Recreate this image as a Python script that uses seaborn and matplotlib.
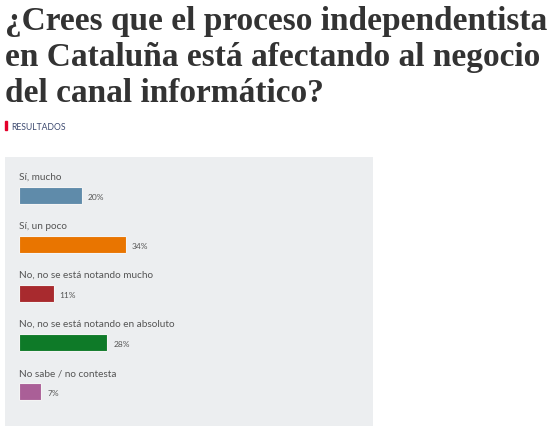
import matplotlib
matplotlib.use("Agg")
import matplotlib.pyplot as plt
import seaborn as sns
import pandas as pd

# -------------------------------
# Data
# -------------------------------
title = "¿Crees que el proceso independentista\nen Cataluña está afectando al negocio\ndel canal informático?"
answers = [
    "Sí, mucho",
    "Sí, un poco",
    "No, no se está notando mucho",
    "No, no se está notando en absoluto",
    "No sabe / no contesta",
]
percents = [20, 34, 11, 28, 7]
bar_colors = ["#5f8baa", "#e97500", "#a82a2e", "#0e7a28", "#aa5f97"]

df = pd.DataFrame({"answer": answers, "pct": percents})

# -------------------------------
# Figure
# -------------------------------
sns.set_theme(style="white")
plt.rcParams["font.family"] = ["Lato", "DejaVu Sans"]

W, H = 550, 427
fig = plt.figure(figsize=(W / 100, H / 100), dpi=100)
fig.patch.set_facecolor("white")

# title
fig.text(5 / W, 1 - 6 / H, title, ha="left", va="top",
         family=["Liberation Serif", "DejaVu Serif"], fontweight="bold",
         fontsize=24, color="#333333", linespacing=1.2)

# "RESULTADOS" tag
fig.patches.append(plt.Rectangle((5 / W, 1 - 131 / H), 2 / W, 9 / H,
                                 transform=fig.transFigure, color="#e4002b"))
fig.text(11 / W, 1 - 127 / H, "RESULTADOS", ha="left", va="center",
         fontsize=6.2, color="#3d4a70")

# panel axes (grey box)
ax = fig.add_axes([5 / W, 0, 368 / W, 269 / H])
ax.set_facecolor("#eceef0")

sns.barplot(data=df, x="pct", y="answer", hue="answer", palette=bar_colors,
            order=answers, hue_order=answers, orient="h", width=0.347,
            saturation=1, edgecolor="#f4f4f4", linewidth=0.8, legend=False, ax=ax)

px = 3.15  # pixels per percent
ax.set_xlim(-14 / px, (368 - 14) / px)
ax.set_ylim((427 - 196.5) / 49, (158 - 196.5) / 49)

for i, (a, p) in enumerate(zip(answers, percents)):
    ax.text(0, i - 0.385, a, ha="left", va="center", fontsize=7.2, color="#555555")
    ax.text(p + 6 / px, i + 0.02, f"{p}%", ha="left", va="center",
            fontsize=6, color="#555555")

ax.set_xlabel("")
ax.set_ylabel("")
ax.set_xticks([])
ax.set_yticks([])
for s in ax.spines.values():
    s.set_visible(False)

fig.savefig("out.png", dpi=100, facecolor="white")
